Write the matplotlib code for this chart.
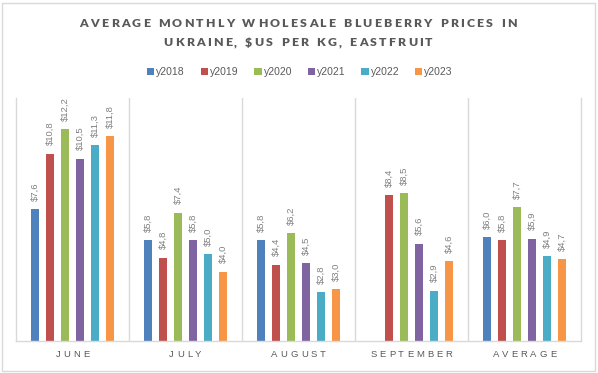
import matplotlib
matplotlib.use("Agg")
import matplotlib.pyplot as plt
from matplotlib.transforms import IdentityTransform
from matplotlib.patches import Rectangle, Patch
import numpy as np

categories = ["JUNE", "JULY", "AUGUST", "SEPTEMBER", "AVERAGE"]
series_names = ["y2018", "y2019", "y2020", "y2021", "y2022", "y2023"]
y2018 = [7.6, 5.8, 5.8, None, 6.0]
y2019 = [10.8, 4.8, 4.4, 8.4, 5.8]
y2020 = [12.2, 7.4, 6.2, 8.5, 7.7]
y2021 = [10.5, 5.8, 4.5, 5.6, 5.9]
y2022 = [11.3, 5.0, 2.8, 2.9, 4.9]
y2023 = [11.8, 4.0, 3.0, 4.6, 4.7]
series = [y2018, y2019, y2020, y2021, y2022, y2023]
colors = ["#4F81BD", "#C0504D", "#9BBB59", "#8064A2", "#4BACC6", "#F79646"]
title_lines = ["AVERAGE MONTHLY WHOLESALE BLUEBERRY PRICES IN",
               "UKRAINE, $US PER KG, EASTFRUIT"]

W, H = 598, 373
fig = plt.figure(figsize=(W / 100, H / 100), dpi=100)
fig.patch.set_facecolor("white")
fig.patches.append(Rectangle((2, 2), W - 5, H - 5, transform=IdentityTransform(),
                             fill=False, edgecolor="#D9D9D9", linewidth=1))

ax = fig.add_axes([16 / W, (H - 341) / H, 565 / W, 243 / H])
ax.set_xlim(-0.5, len(categories) - 0.5)
ax.set_ylim(0, 14)
ax.spines["top"].set_visible(False)
for s in ["left", "right", "bottom"]:
    ax.spines[s].set_color("#D9D9D9")
    ax.spines[s].set_linewidth(1)
ax.set_yticks([])
ax.set_xticks([])
for b in np.arange(0.5, len(categories) - 0.5, 1):
    ax.axvline(b, color="#D9D9D9", linewidth=1, zorder=0)

pitch = 15 / 113
bw = 8 / 113
x = np.arange(len(categories))
for j, (vals, c) in enumerate(zip(series, colors)):
    for i, v in enumerate(vals):
        if v is None:
            continue
        xp = x[i] + (j - 2.5) * pitch
        ax.bar(xp, v, width=bw, color=c, zorder=2)
        ax.annotate("$" + f"{v:.1f}".replace(".", ","), (xp, v), xytext=(0, 6),
                    textcoords="offset points", rotation=90, ha="center", va="bottom",
                    fontsize=6.8, color="#808080", family="Liberation Sans")

fig.canvas.draw()
renderer = fig.canvas.get_renderer()


def spaced(s, cx, by, spacing, **kw):
    texts, widths = [], []
    for ch in s:
        t = fig.text(0, 0, ch, transform=IdentityTransform(), ha="left", va="baseline", **kw)
        widths.append(t.get_window_extent(renderer).width if ch != " " else None)
        texts.append(t)
    sp = [w if w is not None else kw.get("fontsize", 10) * 100 / 72 * 0.3 for w in widths]
    total = sum(sp) + spacing * (len(s) - 1)
    xx = cx - total / 2
    for t, w in zip(texts, sp):
        t.set_position((xx, by))
        xx += w + spacing


tkw = dict(fontsize=8.8, fontweight="heavy", color="#595959", family="Lato")
spaced(title_lines[0], 298, H - 27, 2.2, **tkw)
spaced(title_lines[1], 298, H - 46, 2.2, **tkw)

for i, cat in enumerate(categories):
    cx = ax.transData.transform((x[i], 0))[0]
    spaced(cat, cx, H - 357, 3.0, fontsize=6.8, color="#595959", family="Liberation Sans")

handles = [Patch(facecolor=c, edgecolor="none") for c in colors]
leg = fig.legend(handles, series_names, loc="center", bbox_to_anchor=(300 / W, 1 - 72 / H),
                 ncol=6, frameon=False, handlelength=0.7, handleheight=0.7,
                 handletextpad=0.2, columnspacing=1.5,
                 prop={"family": "Liberation Sans", "size": 7.5})
for t in leg.get_texts():
    t.set_color("#595959")

fig.savefig("out.png", dpi=100)
